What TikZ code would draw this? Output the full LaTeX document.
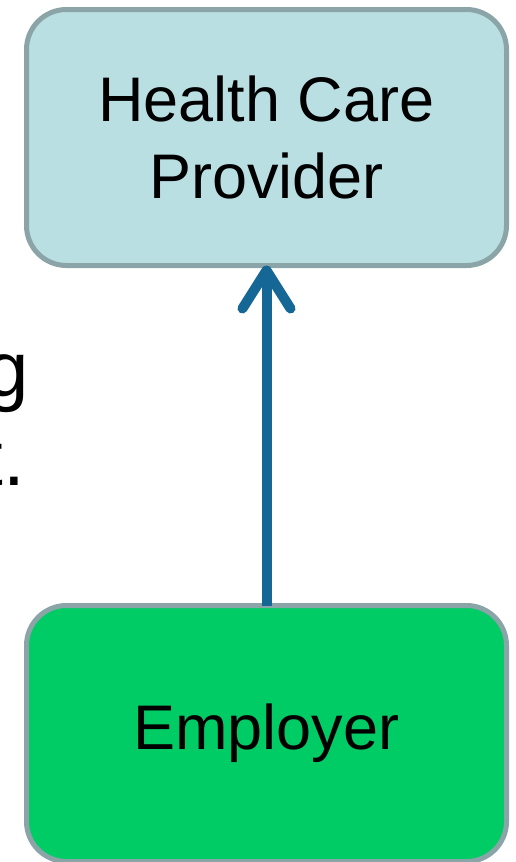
\documentclass[tikz,border=0pt]{standalone}
\usepackage{fontspec}
\setmainfont{Liberation Sans}
\usetikzlibrary{arrows.meta}

\definecolor{provfill}{HTML}{BADFE3}
\definecolor{boxedge}{HTML}{8AA4A7}
\definecolor{empfill}{HTML}{00CC66}
\definecolor{flowblue}{HTML}{156896}

\tikzset{
  partybox/.style={draw=boxedge, line width=5pt, rounded corners=40pt,
    minimum width=480pt, minimum height=256pt, outer sep=0pt,
    align=center, text=black, font=\fontsize{63}{77}\selectfont},
  flowarrow/.style={draw=flowblue, line width=10pt,
    -{Straight Barb[length=38pt, width=48pt, round]}},
  slidetext/.style={inner sep=0pt, outer sep=0pt, text=black,
    font=\fontsize{78}{90}\selectfont}
}

\begin{document}
\begin{tikzpicture}[x=1pt, y=-1pt]
  \useasboundingbox (0,0) rectangle (516,862);
  \clip (0,0) rectangle (516,862);
  \fill[white] (0,0) rectangle (516,862);

  % slide text running in from the left
  \node[slidetext, anchor=base east] (line1) at (29,396) {g};
  \node[slidetext, anchor=base east] (line2) at (25,485) {t.};

  % the two parties
  \node[partybox, fill=provfill] (provider) at (266.5,137.5) {Health Care\\Provider};
  \node[partybox, fill=empfill] (employer) at (266.5,733.5) {Employer};

  % flow from employer to provider
  \draw[flowarrow] (employer.north) -- (provider.south);
\end{tikzpicture}
\end{document}
